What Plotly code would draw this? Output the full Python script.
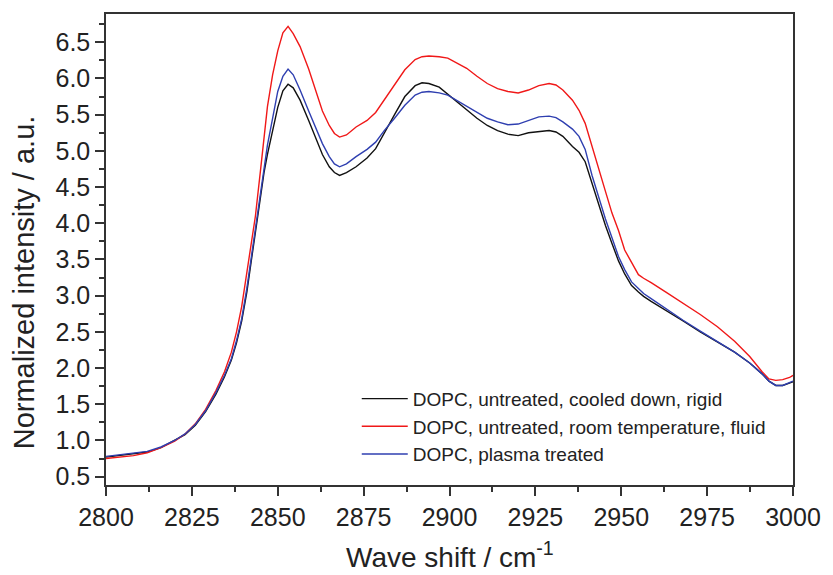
import plotly.graph_objects as go

wave = [2800, 2804, 2808, 2812, 2816, 2820, 2823, 2826, 2829, 2832, 2834.5, 2836.5, 2838, 2839.5,
        2841, 2842.2, 2843.5, 2845, 2846, 2847, 2848.5, 2850, 2851.5, 2853, 2854.5, 2856.5, 2859,
        2861.3, 2863, 2865, 2866.5, 2868, 2870, 2872.8, 2876, 2878.5, 2881, 2884, 2887, 2890, 2892,
        2894, 2897, 2899.5, 2902, 2905, 2908, 2911, 2914, 2917, 2920, 2923, 2926, 2929, 2931, 2933,
        2935.8, 2937.7, 2939.5, 2941.5, 2943.5, 2945.4, 2947.3, 2949.2, 2951, 2953, 2955, 2956.5,
        2958.7, 2963, 2968, 2973, 2978, 2983, 2987.4, 2991, 2993, 2995, 2997, 2999, 3000]

rigid = [0.77, 0.79, 0.81, 0.84, 0.90, 1.00, 1.08, 1.21, 1.40, 1.64, 1.88, 2.11, 2.35, 2.65,
         3.05, 3.45, 3.90, 4.35, 4.70, 4.95, 5.30, 5.60, 5.83, 5.92, 5.87, 5.70, 5.42,
         5.15, 4.95, 4.78, 4.70, 4.66, 4.70, 4.78, 4.90, 5.03, 5.25, 5.50, 5.75, 5.90, 5.94,
         5.93, 5.88, 5.78, 5.68, 5.56, 5.45, 5.35, 5.28, 5.23, 5.21, 5.25, 5.27, 5.28, 5.26, 5.20,
         5.06, 4.98, 4.85, 4.55, 4.25, 3.97, 3.72, 3.48, 3.30, 3.14, 3.05, 2.99,
         2.92, 2.80, 2.65, 2.50, 2.36, 2.22, 2.07, 1.92, 1.82, 1.76, 1.76, 1.79, 1.81]

fluid = [0.75, 0.77, 0.79, 0.83, 0.90, 0.99, 1.09, 1.23, 1.43, 1.69, 1.95, 2.22, 2.50, 2.85,
         3.30, 3.70, 4.10, 4.74, 5.20, 5.61, 6.05, 6.38, 6.63, 6.72, 6.62, 6.44, 6.13,
         5.80, 5.55, 5.35, 5.24, 5.19, 5.22, 5.33, 5.42, 5.53, 5.70, 5.92, 6.12, 6.26, 6.30,
         6.31, 6.30, 6.28, 6.22, 6.14, 6.03, 5.93, 5.86, 5.82, 5.80, 5.84, 5.90, 5.93, 5.91, 5.84,
         5.70, 5.56, 5.38, 5.05, 4.73, 4.44, 4.14, 3.90, 3.63, 3.45, 3.29, 3.24,
         3.18, 3.05, 2.90, 2.74, 2.57, 2.37, 2.16, 1.95, 1.85, 1.83, 1.84, 1.87, 1.90]

plasma = [0.78, 0.80, 0.82, 0.85, 0.91, 1.00, 1.09, 1.22, 1.41, 1.66, 1.90, 2.13, 2.38, 2.68,
          3.10, 3.50, 3.97, 4.45, 4.80, 5.08, 5.45, 5.82, 6.03, 6.13, 6.05, 5.84, 5.55,
          5.29, 5.10, 4.92, 4.82, 4.78, 4.82, 4.92, 5.02, 5.12, 5.28, 5.45, 5.63, 5.77, 5.81,
          5.82, 5.80, 5.77, 5.70, 5.61, 5.53, 5.45, 5.40, 5.36, 5.37, 5.42, 5.47, 5.48, 5.46, 5.40,
          5.30, 5.20, 5.02, 4.66, 4.35, 4.06, 3.80, 3.54, 3.36, 3.19, 3.10, 3.03,
          2.96, 2.82, 2.66, 2.51, 2.37, 2.22, 2.07, 1.92, 1.82, 1.76, 1.76, 1.80, 1.82]

names = ["DOPC, untreated, cooled down, rigid",
         "DOPC, untreated, room temperature, fluid",
         "DOPC, plasma treated"]
colors = ["#111111", "#f01818", "#2f3fb0"]

x_ticks = [2800, 2825, 2850, 2875, 2900, 2925, 2950, 2975, 3000]
y_ticks = [0.5, 1.0, 1.5, 2.0, 2.5, 3.0, 3.5, 4.0, 4.5, 5.0, 5.5, 6.0, 6.5]

font = "Liberation Sans, Arial, sans-serif"
fig = go.Figure()
for name, ys, c in zip(names, [rigid, fluid, plasma], colors):
    fig.add_trace(go.Scatter(x=wave, y=ys, mode="lines", name=name,
                             line=dict(color=c, width=1.4)))

W, H = 833, 575
L, R, T, B = 106, 29, 14, 90
PH = H - T - B
fig.update_layout(
    width=W, height=H,
    margin=dict(l=L, r=R, t=T, b=B),
    paper_bgcolor="white", plot_bgcolor="white",
    font=dict(family=font, color="#222222"),
    showlegend=True,
    legend=dict(x=0.365, y=0.2235, xanchor="left", yanchor="top",
                font=dict(size=19, family=font, color="#222222"),
                bgcolor="rgba(0,0,0,0)", itemwidth=46, tracegroupgap=0),
    xaxis=dict(range=[2800, 3000], tickvals=x_ticks, ticktext=[str(v) for v in x_ticks],
               ticks="outside", ticklen=9, tickwidth=1.5, tickcolor="#333333",
               showline=True, linecolor="#333333", linewidth=1.5, mirror=True,
               showgrid=False, zeroline=False,
               tickfont=dict(size=25, family=font, color="#222222"),
               minor=dict(dtick=12.5, tick0=2800, ticks="outside", ticklen=5,
                          tickwidth=1.5, tickcolor="#333333", showgrid=False)),
    yaxis=dict(range=[0.385, 6.89], tickvals=y_ticks, ticktext=[f"{v:.1f}" for v in y_ticks],
               ticks="outside", ticklen=9, tickwidth=1.5, tickcolor="#333333",
               showline=True, linecolor="#333333", linewidth=1.5, mirror=True,
               showgrid=False, zeroline=False,
               tickfont=dict(size=25, family=font, color="#222222"),
               minor=dict(dtick=0.25, tick0=0.25, ticks="outside", ticklen=5,
                          tickwidth=1.5, tickcolor="#333333", showgrid=False)),
)

fig.add_annotation(text="Wave shift / cm<sup>-1</sup>", xref="paper", yref="paper",
                   x=0.5, y=-(575 - (H - B)) / PH, xanchor="center", yanchor="bottom",
                   showarrow=False, font=dict(size=28, family=font, color="#222222"))
fig.add_annotation(text="Normalized intensity / a.u.", xref="paper", yref="paper",
                   x=-(L - 23) / (W - L - R), y=1 - (282 - T) / PH,
                   xanchor="center", yanchor="middle", textangle=-90,
                   showarrow=False, font=dict(size=29, family=font, color="#222222"))

fig.write_html("out.html")
